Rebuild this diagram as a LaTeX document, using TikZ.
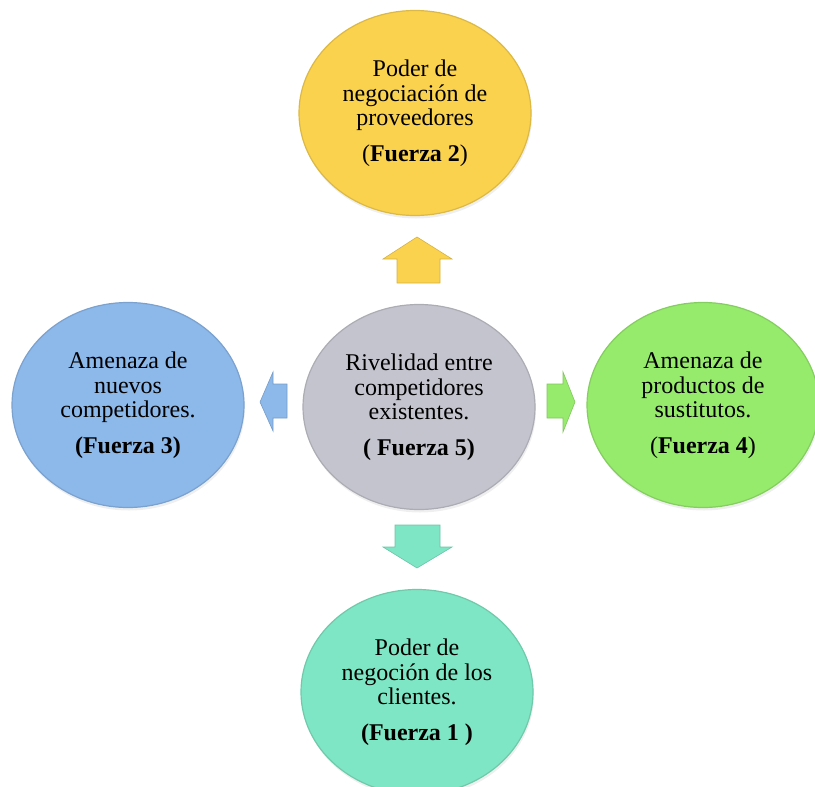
\documentclass[tikz,border=0pt]{standalone}
\usepackage{fontspec}
\setmainfont{Liberation Serif}
\usetikzlibrary{shapes.geometric,shadows}
\definecolor{cyel}{RGB}{250,210,78}
\definecolor{cblu}{RGB}{140,184,234}
\definecolor{cgrn}{RGB}{150,234,108}
\definecolor{ctea}{RGB}{126,230,196}
\definecolor{cgry}{RGB}{196,196,206}
\tikzset{
  force/.style={ellipse, fill=#1, draw=#1!88!black, line width=1.2pt,
    minimum width=232pt, minimum height=205pt, inner sep=0pt, align=center,
    font=\fontsize{24}{24.5}\selectfont,
    drop shadow={shadow xshift=1pt, shadow yshift=-3pt, fill=black!12, opacity=0.5}},
  blockarrow/.style={fill=#1, draw=#1!85!black, line width=0.6pt, line join=miter}
}
\begin{document}
\begin{tikzpicture}[x=1pt,y=-1pt]
\useasboundingbox (0,0) rectangle (815,787);
\node[force=cyel] (f2) at (415,113) {Poder de\\negociación de\\proveedores\\[11pt](\textbf{Fuerza 2})};
\node[force=cgry] (f5) at (419,407) {Rivelidad entre\\competidores\\existentes.\\[11pt]\textbf{( Fuerza 5)}};
\node[force=cblu] (f3) at (128,405) {Amenaza de\\nuevos\\competidores.\\[11pt]\textbf{(Fuerza 3)}};
\node[force=cgrn] (f4) at (703,405) {Amenaza de\\productos de\\sustitutos.\\[11pt](\textbf{Fuerza 4})};
\node[force=ctea] (f1) at (417,692) {Poder de\\negoción de los\\clientes.\\[11pt]\textbf{(Fuerza 1 )}};
% block arrows
\draw[blockarrow=cyel] (417,237) -- (452,259) -- (440,259) -- (440,283) -- (397,283) -- (397,259) -- (383,259) -- cycle;
\draw[blockarrow=cblu] (260,402) -- (273,372) -- (273,384) -- (287,384) -- (287,418) -- (273,418) -- (273,431) -- cycle;
\draw[blockarrow=cgrn] (575,402) -- (563,372) -- (563,384) -- (547,384) -- (547,418) -- (563,418) -- (563,432) -- cycle;
\draw[blockarrow=ctea] (417,568) -- (452,547) -- (440,547) -- (440,525) -- (395,525) -- (395,547) -- (383,547) -- cycle;
\end{tikzpicture}
\end{document}
